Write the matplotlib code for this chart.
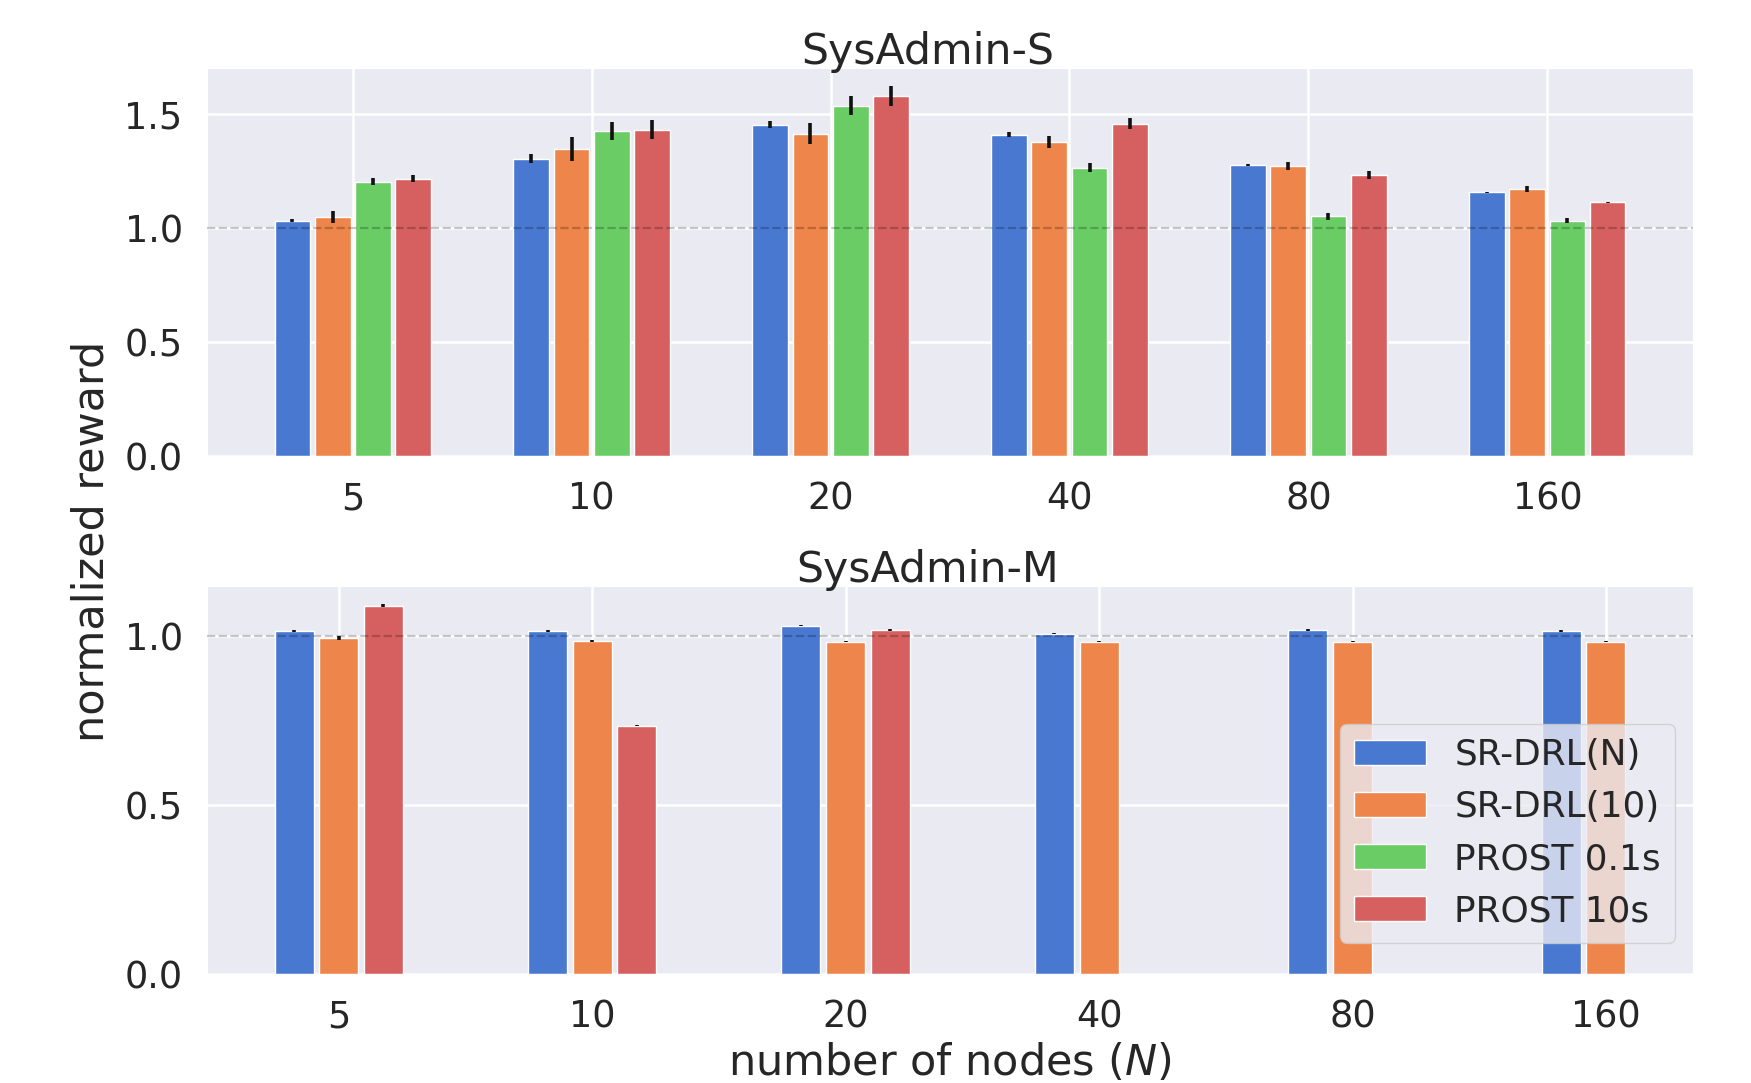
import numpy as np
import matplotlib.pyplot as plt
import seaborn as sns
from matplotlib.patches import Patch

sns.set_style('darkgrid')
pal = sns.color_palette('muted')

# Données
nodes = ['5', '10', '20', '40', '80', '160']
methods = ['SR-DRL(N)', 'SR-DRL(10)', 'PROST 0.1s', 'PROST 10s']
colors = [pal[0], pal[1], pal[2], pal[3]]

# SysAdmin-S
s_srdrl_n = [1.032, 1.303, 1.452, 1.409, 1.277, 1.155]
s_srdrl_10 = [1.046, 1.346, 1.413, 1.378, 1.272, 1.170]
s_prost_01 = [1.203, 1.424, 1.535, 1.264, 1.050, 1.032]
s_prost_10 = [1.216, 1.430, 1.578, 1.456, 1.233, 1.111]
s_err_n = [0.006, 0.019, 0.015, 0.009, 0.004, 0.003]
s_err_10 = [0.027, 0.051, 0.046, 0.026, 0.017, 0.012]
s_err_01 = [0.014, 0.038, 0.041, 0.021, 0.014, 0.012]
s_err_p10 = [0.016, 0.042, 0.042, 0.024, 0.017, 0.004]

# SysAdmin-M (pas de PROST 0.1s, PROST 10s manquant pour N >= 40)
m_srdrl_n = [1.016, 1.016, 1.031, 1.008, 1.019, 1.016]
m_srdrl_10 = [0.995, 0.987, 0.984, 0.984, 0.984, 0.984]
m_prost_10 = [1.091, 0.735, 1.019, np.nan, np.nan, np.nan]
m_err_n = [0.003, 0.002, 0.002, 0.002, 0.002, 0.002]
m_err_10 = [0.005, 0.003, 0.002, 0.002, 0.002, 0.002]
m_err_p10 = [0.003, 0.002, 0.002, 0.0, 0.0, 0.0]


def draw_group(ax, series, errors, cols, width, step):
    x = np.arange(len(nodes))
    n = len(series)
    for i, (vals, errs, c) in enumerate(zip(series, errors, cols)):
        vals = np.array(vals, dtype=float)
        errs = np.array(errs, dtype=float)
        mask = ~np.isnan(vals)
        off = (i - (n - 1) / 2) * step
        ax.bar(x[mask] + off, vals[mask], width, color=c,
               yerr=errs[mask], error_kw=dict(ecolor='#111111', elinewidth=2.6, capsize=0))
    ax.set_xticks(x)
    ax.set_xticklabels(nodes)
    ax.axhline(1.0, color='black', alpha=0.22, linestyle='--', linewidth=1.6, zorder=5)
    ax.tick_params(axis='both', labelsize=26.4, pad=14)
    ax.grid(True, color='white', linewidth=1.8)


fig = plt.figure(figsize=(17.51, 10.83), dpi=100)
ax1 = fig.add_axes([0.1182, 0.579, 0.8487, 0.3583])
ax2 = fig.add_axes([0.1182, 0.1006, 0.8487, 0.3583])

draw_group(ax1, [s_srdrl_n, s_srdrl_10, s_prost_01, s_prost_10],
           [s_err_n, s_err_10, s_err_01, s_err_p10], colors, 0.15, 0.168)
ax1.set_yticks([0.0, 0.5, 1.0, 1.5])
ax1.set_title('SysAdmin-S', fontsize=30.7, pad=3, x=0.485)

draw_group(ax2, [m_srdrl_n, m_srdrl_10, m_prost_10],
           [m_err_n, m_err_10, m_err_p10], [colors[0], colors[1], colors[3]], 0.154, 0.176)
ax2.set_yticks([0.0, 0.5, 1.0])
ax2.set_title('SysAdmin-M', fontsize=30.7, pad=3, x=0.485)
ax2.set_xlabel('number of nodes ($N$)', fontsize=31, labelpad=5)

handles = [Patch(facecolor=c, label=m) for c, m in zip(colors, methods)]
ax2.legend(handles=handles, loc='lower right', fontsize=25.8,
           bbox_to_anchor=(1.0, 0.035))

fig.text(0.052, 0.5, 'normalized reward', rotation=90, fontsize=31,
         ha='center', va='center')

fig.savefig('out.png', dpi=100)
